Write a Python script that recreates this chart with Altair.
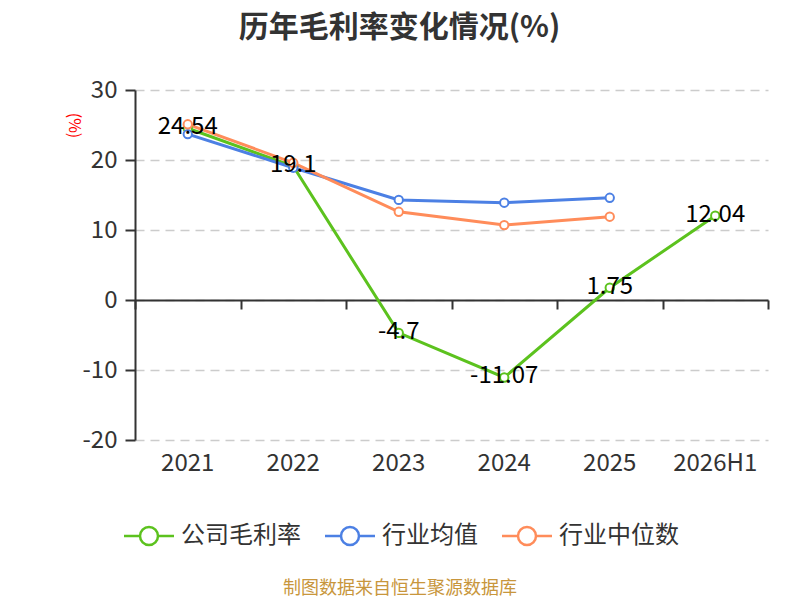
import altair as alt
import pandas as pd

years = ["2021", "2022", "2023", "2024", "2025", "2026H1"]
company = [24.54, 19.1, -4.7, -11.07, 1.75, 12.04]
company_labels = ["24.54", "19.1", "-4.7", "-11.07", "1.75", "12.04"]
ind_mean = [23.7, 18.9, 14.3, 13.9, 14.6]
ind_median = [25.1, 19.6, 12.6, 10.7, 11.9]
series_names = ["公司毛利率", "行业均值", "行业中位数"]
colors = ["#5cc21e", "#4c80e4", "#ff8c5a"]
y_ticks = [-20, -10, 0, 10, 20, 30]
title_text = "历年毛利率变化情况(%)"
source_text = "制图数据来自恒生聚源数据库"
unit_text = "(%)"

FONT = "Noto Sans CJK SC"

rows = []
for y, v, l in zip(years, company, company_labels):
    rows.append({"year": y, "series": series_names[0], "value": v, "label": l})
for y, v in zip(years, ind_mean):
    rows.append({"year": y, "series": series_names[1], "value": v, "label": ""})
for y, v in zip(years, ind_median):
    rows.append({"year": y, "series": series_names[2], "value": v, "label": ""})
df = pd.DataFrame(rows)

xscale = alt.Scale(type="band", domain=years, paddingInner=0, paddingOuter=0)
yscale = alt.Scale(domain=[-20, 30], nice=False, zero=False)
cscale = alt.Scale(domain=series_names, range=colors)

legend_path = ("M-2.5,0L-0.9,0M0.9,0L2.5,0"
               "M-0.9,0A0.9,0.9,0,1,1,0.9,0A0.9,0.9,0,1,1,-0.9,0Z")

legend = alt.Legend(
    title=None, orient="none", legendX=2, legendY=434,
    direction="horizontal", symbolType=legend_path, symbolSize=400,
    symbolStrokeWidth=2.5, symbolOpacity=1, symbolFillColor="white",
    labelFontSize=24, labelColor="#333", labelFont=FONT, labelOffset=20,
    columnPadding=19, padding=0)

base = alt.Chart(df)

bottom_axis = alt.Axis(title=None, domain=False, ticks=False, tickSize=0,
                       labelPadding=11, labelFontSize=24, labelColor="#333",
                       labelFont=FONT, grid=False, labelAngle=0)
zero_axis = alt.Axis(title=None, orient="bottom", offset=-140, labels=False,
                     domain=True, domainColor="#333", domainWidth=2,
                     ticks=True, tickBand="extent", tickSize=9, tickWidth=2,
                     tickColor="#333", grid=False)
y_axis = alt.Axis(values=y_ticks, title=unit_text, titleColor="red",
                  titleFontSize=16, titleFontWeight="normal", titleAngle=90,
                  titleX=-62, titleY=35, titleAlign="center",
                  titleBaseline="middle", titleFont=FONT,
                  labelExpr="'' + datum.value",
                  labelFontSize=24, labelColor="#333", labelPadding=8,
                  labelFont=FONT, tickSize=10, tickWidth=2, tickColor="#333",
                  domainColor="#333", domainWidth=2, grid=True,
                  gridDash=[9, 6], gridColor="#cccccc", gridWidth=1.5)

Y = alt.Y("value:Q", scale=yscale, axis=y_axis)
C = alt.Color("series:N", scale=cscale, legend=legend)

lines = base.mark_line(strokeWidth=3).encode(
    x=alt.X("year:N", bandPosition=0.5, scale=xscale, sort=years, axis=bottom_axis),
    y=Y,
    color=C,
)

points = base.mark_point(shape="circle", filled=False, fill="white", size=70,
                         strokeWidth=2, opacity=1).encode(
    x=alt.X("year:N", bandPosition=0.5, scale=xscale, sort=years, axis=None),
    y=Y,
    color=C,
)

labels = base.transform_filter(alt.datum.series == series_names[0]).mark_text(
    fontSize=24, color="black", baseline="middle", dy=-1, font=FONT
).encode(
    x=alt.X("year:N", bandPosition=0.5, scale=xscale, sort=years, axis=zero_axis),
    y=Y,
    text="label:N",
)

source = alt.Chart(pd.DataFrame({"t": [source_text]})).mark_text(
    fontSize=18, color="#c8963c", font=FONT, baseline="middle", align="center"
).encode(x=alt.value(265), y=alt.value(499), text="t:N")

chart = alt.layer(lines, points, labels, source).resolve_axis(
    x="independent"
).properties(
    width=633, height=350,
    autosize=alt.AutoSizeParams(type="none"),
    padding={"left": 127, "top": 82, "right": 24, "bottom": 160},
    title=alt.TitleParams(text=title_text, fontSize=30, fontWeight="bold",
                          color="#333", font=FONT, anchor="middle", dx=-52,
                          offset=35),
).configure_view(stroke=None)

chart.save("out.html", embed_options={"renderer": "svg", "actions": False})
